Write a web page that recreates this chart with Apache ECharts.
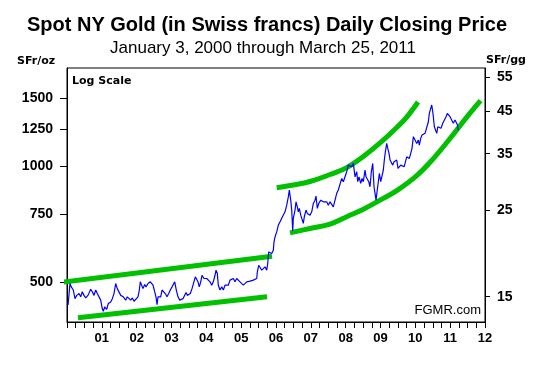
<!DOCTYPE html>
<html>
<head>
<meta charset="utf-8">
<script src="https://cdn.jsdelivr.net/npm/echarts@6/dist/echarts.min.js"></script>
<style>
  html, body { margin: 0; padding: 0; background: #fff; }
  #chart { width: 553px; height: 365px; }
</style>
</head>
<body>
<div id="chart"></div>
<script>
// ---- data (year as decimal, price in SFr/oz) ----
const goldDaily = [
  [2000.03,437],[2000.086,497],[2000.123,487],[2000.181,478],[2000.23,454],[2000.279,463],[2000.345,468],[2000.393,459],[2000.439,473],[2000.488,463],
  [2000.537,456],[2000.603,463],[2000.68,480],[2000.726,473],[2000.775,463],[2000.824,478],[2000.87,468],[2000.919,463],[2000.968,450],[2001.013,428],
  [2001.042,421],[2001.082,432],[2001.14,426],[2001.186,441],[2001.255,445],[2001.301,454],[2001.349,468],[2001.398,497],[2001.444,482],[2001.493,487],
  [2001.542,463],[2001.616,459],[2001.685,450],[2001.731,459],[2001.78,454],[2001.829,450],[2001.875,456],[2001.924,447],[2001.981,450],
  [2002.038,459],[2002.076,478],[2002.104,502],[2002.153,497],[2002.182,482],[2002.231,494],[2002.268,487],[2002.326,497],[2002.363,492],[2002.392,502],
  [2002.44,507],[2002.469,492],[2002.506,478],[2002.555,459],[2002.584,438],[2002.613,459],[2002.65,463],[2002.69,459],[2002.728,478],[2002.777,473],
  [2002.822,468],[2002.871,459],[2002.92,468],[2002.966,478],[2003.015,487],[2003.063,482],[2003.092,502],[2003.138,478],[2003.187,459],[2003.236,450],
  [2003.282,445],[2003.33,454],[2003.379,459],[2003.417,471],[2003.454,463],[2003.494,459],[2003.54,468],[2003.589,482],[2003.638,487],[2003.684,517],
  [2003.732,522],[2003.761,502],[2003.798,487],[2003.839,502],[2003.876,522],[2003.933,512],
  [2003.962,507],[2004.011,512],[2004.057,512],[2004.106,502],[2004.155,492],[2004.2,502],[2004.249,522],[2004.278,538],[2004.315,528],[2004.344,492],
  [2004.393,478],[2004.442,487],[2004.488,478],[2004.536,492],[2004.585,487],[2004.631,492],[2004.68,507],[2004.729,502],[2004.775,512],[2004.823,502],
  [2004.872,512],[2004.918,507],[2004.967,502],[2005.016,497],[2005.062,492],[2005.111,497],[2005.159,502],[2005.205,502],[2005.254,504],[2005.303,507],
  [2005.349,507],[2005.398,509],[2005.447,512],[2005.464,533],[2005.504,554],[2005.541,549],[2005.59,538],[2005.636,544],[2005.685,549],[2005.734,538],
  [2005.762,560],[2005.791,600],[2005.828,606],[2005.877,594],[2005.923,606],[2005.943,637],[2005.972,656],
  [2006.02,676],[2006.067,704],[2006.116,718],[2006.164,733],[2006.21,725],[2006.259,762],[2006.308,793],[2006.354,833],[2006.382,868],[2006.423,817],
  [2006.451,770],[2006.48,680],[2006.497,733],[2006.546,770],[2006.575,809],[2006.612,785],[2006.641,762],[2006.67,778],[2006.71,747],[2006.756,725],
  [2006.784,711],[2006.813,740],[2006.862,770],[2006.899,755],[2006.94,762],[2006.977,747],[2007.026,762],[2007.072,801],[2007.12,817],[2007.149,837],
  [2007.186,778],[2007.227,801],[2007.284,817],[2007.313,826],[2007.359,809],[2007.408,801],[2007.456,809],[2007.502,793],[2007.551,809],
  [2007.6,817],[2007.646,785],[2007.695,793],[2007.743,851],[2007.789,868],[2007.838,876],[2007.887,930],[2007.933,912],[2007.982,921],[2008.03,968],
  [2008.076,1007],[2008.125,1017],[2008.174,997],[2008.22,1017],[2008.269,939],[2008.318,968],[2008.346,912],[2008.384,939],[2008.432,903],[2008.47,930],
  [2008.507,912],[2008.556,978],[2008.585,939],[2008.622,949],[2008.662,912],[2008.699,885],[2008.737,968],[2008.777,1017],[2008.814,885],[2008.843,851],
  [2008.872,817],[2008.901,859],[2008.938,912],[2008.967,958],[2009.007,912],[2009.044,903],[2009.081,978],[2009.11,1038],[2009.139,1090],[2009.179,1146],
  [2009.208,1113],[2009.245,1080],[2009.274,1038],[2009.311,1048],[2009.351,1007],[2009.389,1027],[2009.426,1017],[2009.466,1038],[2009.503,988],[2009.541,997],
  [2009.581,1007],[2009.627,1017],[2009.676,997],
  [2009.704,1017],[2009.753,1058],[2009.799,1069],[2009.828,1048],[2009.868,1080],[2009.905,1113],[2009.943,1193],[2009.992,1169],[2010.04,1146],[2010.086,1169],
  [2010.115,1135],[2010.155,1181],[2010.192,1205],[2010.23,1193],[2010.279,1217],[2010.328,1229],[2010.374,1304],[2010.402,1371],[2010.442,1413],[2010.471,1441],
  [2010.5,1384],[2010.517,1344],[2010.546,1266],[2010.586,1254],[2010.615,1217],[2010.644,1266],[2010.69,1279],[2010.738,1254],[2010.787,1292],[2010.833,1304],
  [2010.882,1344],[2010.919,1371],[2010.959,1384],[2010.996,1344],[2011.045,1357],[2011.091,1292],[2011.14,1318],[2011.189,1304],[2011.21,1279],[2011.23,1241]
];
const trendUpperLeft  = [[1999.779,500],[2005.886,585]];
const trendLowerLeft  = [[2000.316,405],[2005.742,459]];
const trendUpperCurve = [[2006.021,880],[2006.497,894],[2006.977,913],[2007.551,952],[2008.031,992],[2008.507,1060],[2008.987,1149],[2009.466,1260],[2009.753,1341],[2010.078,1467]];
const trendLowerCurve = [[2006.403,672],[2006.977,690],[2007.551,708],[2008.031,740],[2008.507,774],[2008.987,817],[2009.466,865],[2010.04,946],[2010.517,1047],[2010.996,1180],[2011.476,1341],[2011.872,1480]];

const yearTickLabels = ['01','02','03','04','05','06','07','08','09','10','11','12'];
const ozTicks = [500, 750, 1000, 1250, 1500];
const gramTicks = [15, 25, 35, 45, 55];

const FONT = "'Liberation Sans', Arial, sans-serif";
const GREEN = '#00c000';

const chart = echarts.init(document.getElementById('chart'), null, { renderer: 'canvas' });

function trend(data, smooth) {
  return {
    type: 'line', data: data, yAxisIndex: 0, showSymbol: false, symbol: 'none',
    smooth: smooth, clip: false, silent: true, z: 2,
    lineStyle: { color: GREEN, width: 5, cap: 'butt' }
  };
}

chart.setOption({
  animation: false,
  backgroundColor: '#fff',
  grid: { left: 67, right: 68, top: 68, bottom: 43, show: true, borderColor: '#000', borderWidth: 1, backgroundColor: 'transparent' },
  xAxis: {
    type: 'value', min: 2000, max: 2012, interval: 0.25,
    axisLine: { show: true, lineStyle: { color: '#000', width: 1 } },
    axisTick: { show: true, length: 6, lineStyle: { color: '#000' } },
    splitLine: { show: false },
    axisLabel: {
      margin: 10, color: '#000', fontFamily: FONT, fontWeight: 'bold', fontSize: 13,
      showMinLabel: true, showMaxLabel: true,
      formatter: function (v) {
        const r = Math.round(v * 4) / 4;
        if (Math.abs(r - Math.round(r)) > 1e-6) return '';
        const i = Math.round(r) - 2001;
        return (i >= 0 && i < yearTickLabels.length) ? yearTickLabels[i] : '';
      }
    }
  },
  yAxis: [
    {
      type: 'log', logBase: 10, min: 395, max: 1797, position: 'left',
      axisLine: { show: true, lineStyle: { color: '#000' } },
      axisTick: { show: true, length: 7, customValues: ozTicks, lineStyle: { color: '#000' } },
      axisLabel: { customValues: ozTicks, margin: 14, color: '#000', fontFamily: FONT, fontWeight: 'bold', fontSize: 14,
        formatter: function (v) { return String(Math.round(v)); } },
      splitLine: { show: false }, minorTick: { show: false }
    },
    {
      type: 'log', logBase: 10, min: 12.91, max: 58.13, position: 'right',
      axisLine: { show: true, lineStyle: { color: '#000' } },
      axisTick: { show: true, length: 5, customValues: gramTicks, lineStyle: { color: '#000' } },
      axisLabel: { customValues: gramTicks, margin: 12, color: '#000', fontFamily: FONT, fontWeight: 'bold', fontSize: 14,
        formatter: function (v) { return String(Math.round(v)); } },
      splitLine: { show: false }, minorTick: { show: false }
    }
  ],
  series: [
    trend(trendUpperLeft, false),
    trend(trendLowerLeft, false),
    trend(trendUpperCurve, 0.4),
    trend(trendLowerCurve, 0.4),
    {
      type: 'line', data: goldDaily, yAxisIndex: 0, showSymbol: false, symbol: 'none',
      silent: true, z: 3, lineStyle: { color: '#0000ff', width: 1.2 }
    }
  ],
  graphic: [
    { type: 'text', x: 267, y: 25, style: { text: 'Spot NY Gold (in Swiss francs) Daily Closing Price', font: "bold 20px " + FONT, fill: '#000', align: 'center', verticalAlign: 'middle' } },
    { type: 'text', x: 263, y: 48, style: { text: 'January 3, 2000 through March 25, 2011', font: "17px " + FONT, fill: '#000', align: 'center', verticalAlign: 'middle' } },
    { type: 'text', x: 17, y: 61, style: { text: 'SFr/oz', font: "bold 11px 'DejaVu Sans', sans-serif", fill: '#000', align: 'left', verticalAlign: 'middle' } },
    { type: 'text', x: 486, y: 60, style: { text: 'SFr/gg', font: "bold 11px 'DejaVu Sans', sans-serif", fill: '#000', align: 'left', verticalAlign: 'middle' } },
    { type: 'text', x: 72, y: 81, style: { text: 'Log Scale', font: "bold 11px 'DejaVu Sans', sans-serif", fill: '#000', align: 'left', verticalAlign: 'middle' } },
    { type: 'text', x: 481, y: 310, style: { text: 'FGMR.com', font: "13px " + FONT, fill: '#000', align: 'right', verticalAlign: 'middle' } }
  ]
});
</script>
</body>
</html>
